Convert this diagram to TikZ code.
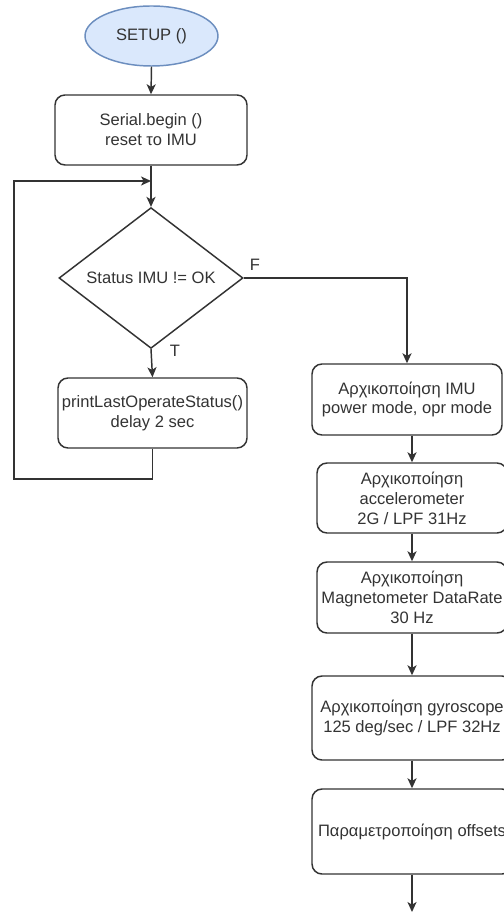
\documentclass[tikz,border=0pt]{standalone}
\usepackage{fontspec}
\setmainfont{Liberation Sans}
\usetikzlibrary{shapes.geometric,arrows.meta}
\definecolor{ln}{HTML}{333333}
\definecolor{txt}{HTML}{333333}
\definecolor{efill}{HTML}{DAE8FC}
\definecolor{edraw}{HTML}{6C8EBF}
\begin{document}
\begin{tikzpicture}[x=0.75pt,y=-0.75pt,
  txtstyle/.style={text=txt, font=\fontsize{12.4}{14.9}\selectfont},
  boxnode/.style={txtstyle, draw=ln, line width=1.1pt, rounded corners=7.5pt, align=center, inner sep=0pt},
  startnode/.style={txtstyle, ellipse, draw=edraw, fill=efill, line width=1.1pt, inner sep=0pt},
  decnode/.style={txtstyle, diamond, draw=ln, line width=1.1pt, inner sep=0pt},
  arr/.style={draw=ln, line width=1.1pt, -{Stealth[length=7.5pt,width=6.8pt,inset=2pt]}},
  lbl/.style={txtstyle, inner sep=0pt}
]
\useasboundingbox (0,0) rectangle (503,912);
\fill[white] (0,0) rectangle (503,912);

\node[startnode, minimum width=99.75pt, minimum height=45pt] (setup) at (151.5,36) {SETUP ()};
\node[boxnode, minimum width=144pt, minimum height=52.5pt] (serial) at (151,130) {Serial.begin ()\\reset το IMU};
\node[decnode, minimum width=138pt, minimum height=105pt] (dia) at (151,278) {Status IMU != OK};
\node[boxnode, minimum width=141.75pt, minimum height=52.5pt] (print) at (152.5,413) {printLastOperateStatus()\\delay 2 sec};

\node[boxnode, minimum width=142.5pt, minimum height=53.25pt] (box1) at (407,399.5) {Αρχικοποίηση IMU\\power mode, opr mode};
\node[boxnode, minimum width=142.5pt, minimum height=52.5pt] (box2) at (412,498) {Αρχικοποίηση\\accelerometer\\2G / LPF 31Hz};
\node[boxnode, minimum width=142.5pt, minimum height=53.25pt] (box3) at (412,597.5) {Αρχικοποίηση\\Magnetometer DataRate\\30 Hz};
\node[boxnode, minimum width=150pt, minimum height=63pt] (box4) at (412,718) {Αρχικοποίηση gyroscope\\125 deg/sec / LPF 32Hz};
\node[boxnode, minimum width=150pt, minimum height=63.75pt] (box5) at (412,831.5) {Παραμετροποίηση offsets};

\node[lbl] (flab) at (255,265) {F};
\node[lbl] (tlab) at (175,351) {T};

\coordinate (loopbl) at (14,479);
\coordinate (looptl) at (14,181);
\coordinate (endp) at (412,912);

\draw[arr] (setup.south) -- (serial.north);
\draw[arr] (serial.south) -- (dia.north);
\draw[arr] (dia.south) -- (print.north);
\draw[arr] (print.south) |- (loopbl) -- (looptl) -- (looptl -| serial.south);
\draw[arr] (dia.east) -| (box1.north);
\draw[arr] (box1.south -| box2.north) -- (box2.north);
\draw[arr] (box2.south) -- (box3.north);
\draw[arr] (box3.south) -- (box4.north);
\draw[arr] (box4.south) -- (box5.north);
\draw[arr] (box5.south) -- (endp);
\end{tikzpicture}
\end{document}
